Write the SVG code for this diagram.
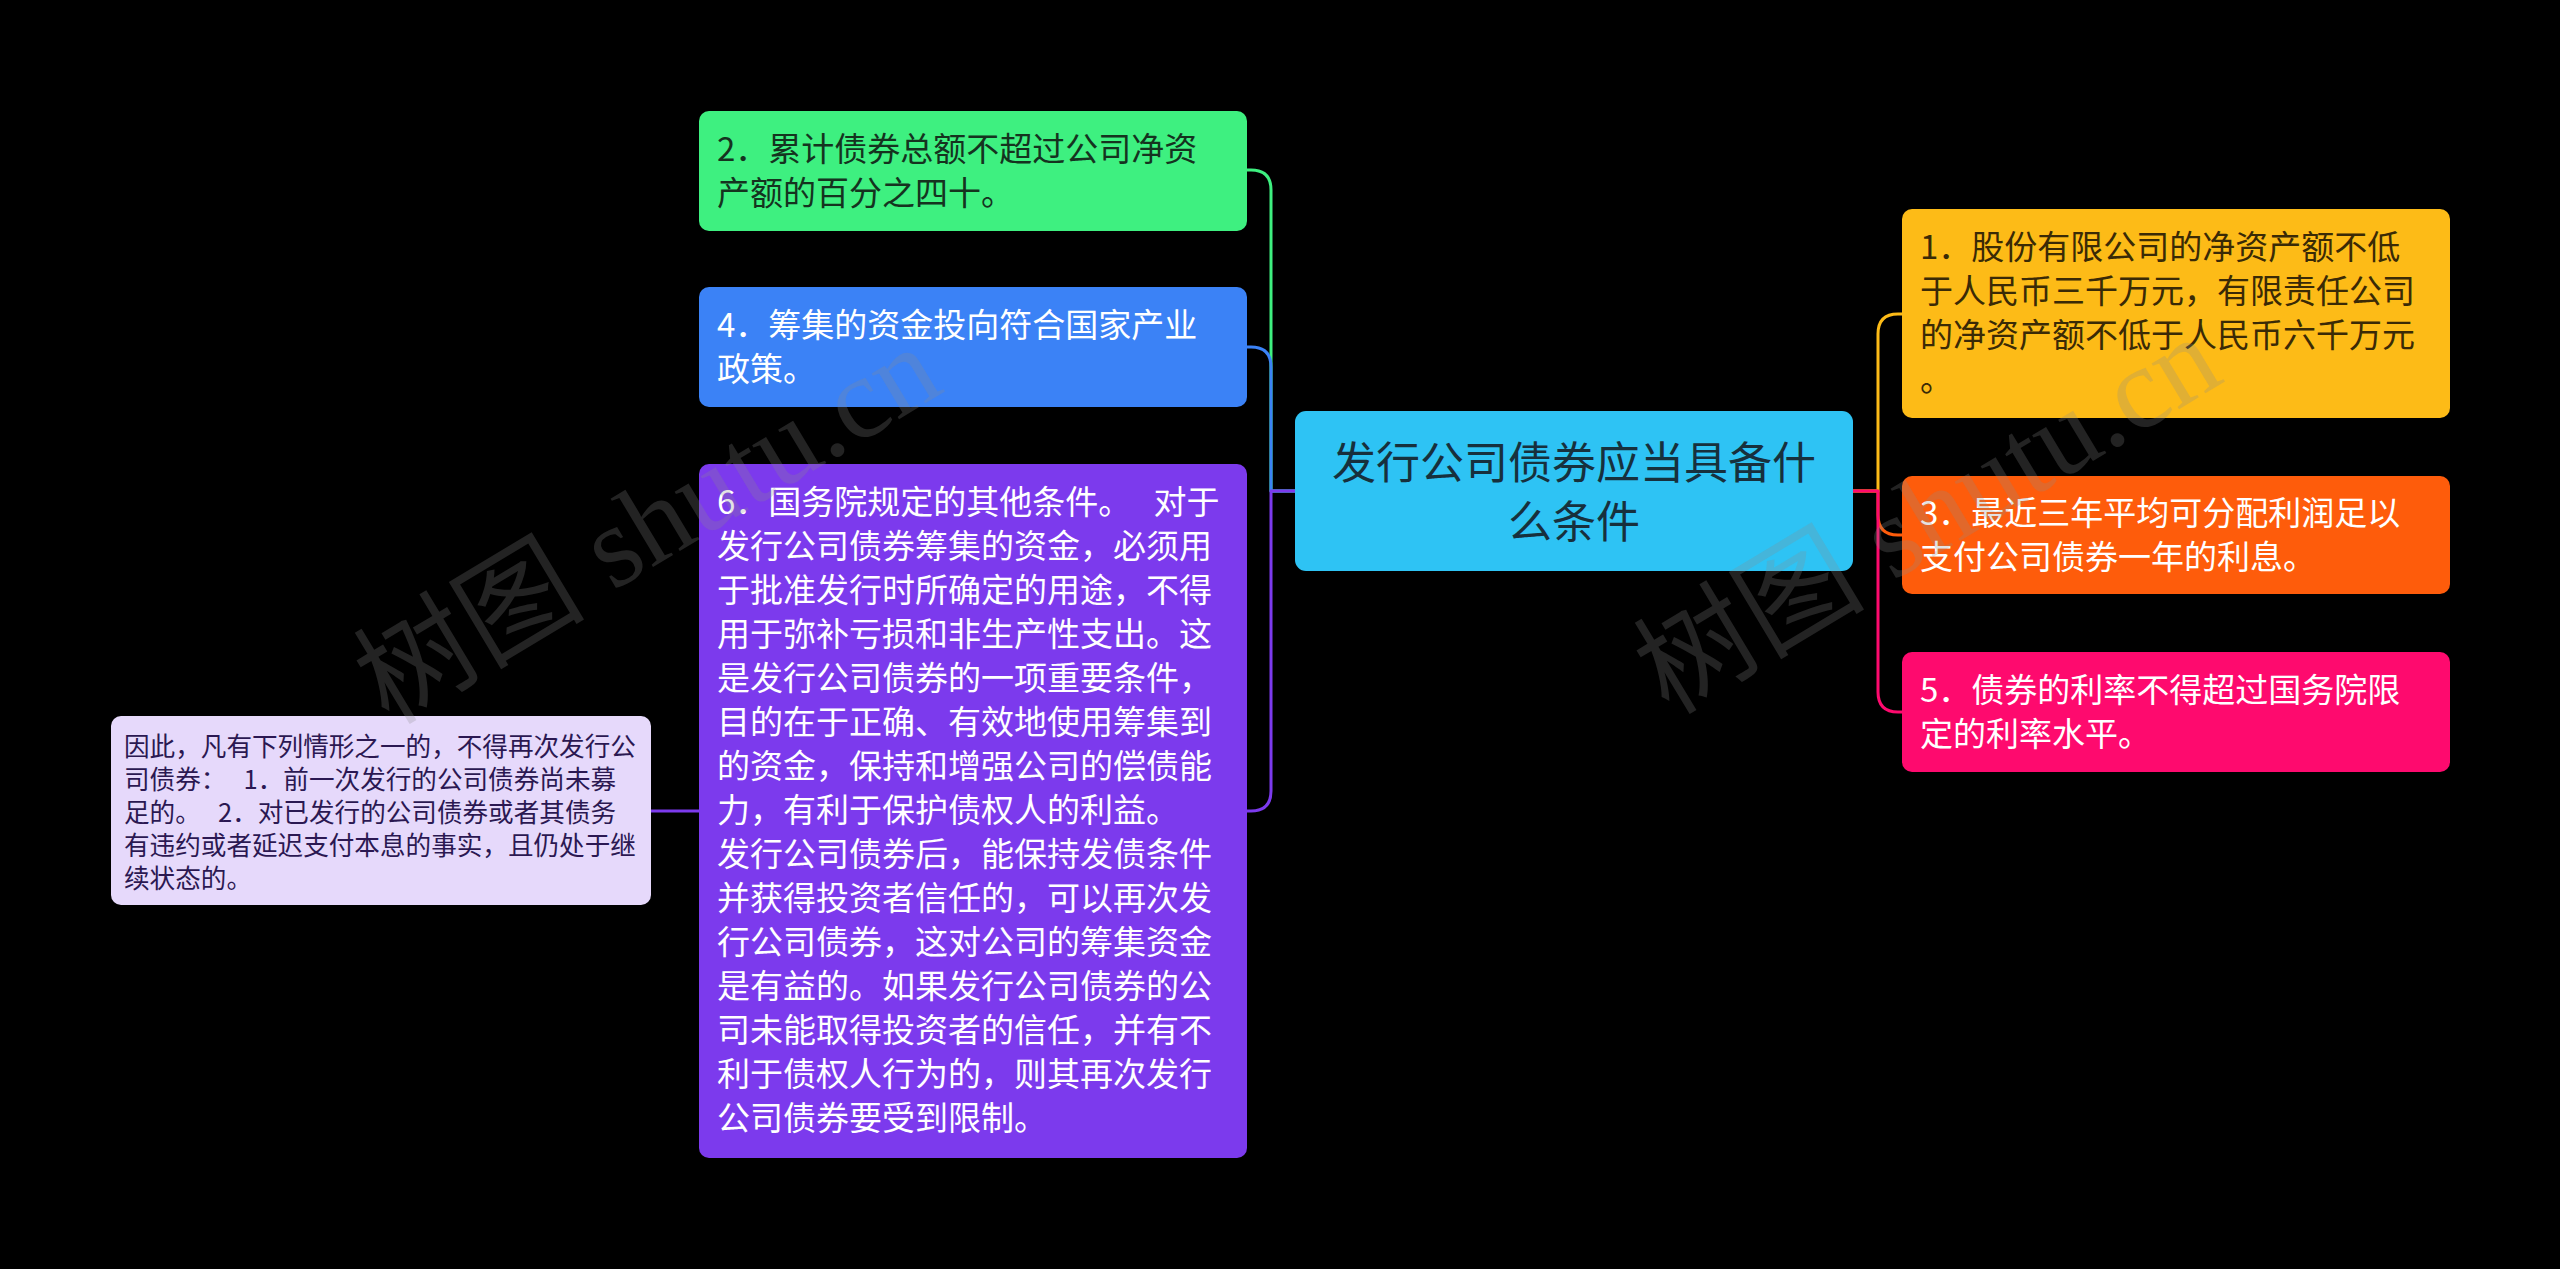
<svg xmlns="http://www.w3.org/2000/svg" width="2560" height="1269" viewBox="0 0 2560 1269">
<style>
.t{font-family:"Noto Sans CJK SC","Noto Sans",sans-serif;font-size:33px;white-space:pre}
.s{font-family:"Noto Sans CJK SC","Noto Sans",sans-serif;font-size:25.6px;white-space:pre}
.c{font-family:"Noto Sans CJK SC","Noto Sans",sans-serif;font-size:44px;text-anchor:middle}
.ln{fill:none;stroke-width:3;stroke-linejoin:round}
.wm{font-family:"Liberation Serif","Noto Sans CJK SC",serif;font-size:116px;fill:#8a8a8a;fill-opacity:0.25}
</style>
<rect width="2560" height="1269" fill="#000"/>
<g id="connectors">
<path class="ln" stroke="#3ef080" d="M1295,491 H1271 V190 Q1271,170 1251,170 H1247"/>
<path class="ln" stroke="#3b82f6" d="M1295,491 H1271 V367 Q1271,347 1251,347 H1247"/>
<path class="ln" stroke="#7c3aed" d="M1295,491 H1271 V791 Q1271,811 1251,811 H1247"/>
<path class="ln" stroke="#7c3aed" d="M651,811 H699"/>
<path class="ln" stroke="#fdbb17" d="M1853,491 H1878 V334 Q1878,314 1898,314 H1902"/>
<path class="ln" stroke="#fe5c0b" d="M1853,491 H1878 V515 Q1878,535 1898,535 H1902"/>
<path class="ln" stroke="#fe0a6e" d="M1853,491 H1878 V692 Q1878,712 1898,712 H1902"/>
</g>
<g id="center">
<rect x="1295" y="411" width="558" height="160" rx="11" fill="#2ec3f4"/>
<text class="c" fill="#17303d"><tspan x="1574" y="479">发行公司债券应当具备什</tspan><tspan x="1574" y="538">么条件</tspan></text>
</g>
<g id="n2">
<rect x="699" y="111" width="548" height="120" rx="10" fill="#3ef080"/>
<text class="t" fill="#15331f"><tspan x="717" y="161">2．累计债券总额不超过公司净资</tspan><tspan x="717" y="205">产额的百分之四十。</tspan></text>
</g>
<g id="n4">
<rect x="699" y="287" width="548" height="120" rx="10" fill="#3b82f6"/>
<text class="t" fill="#fff"><tspan x="717" y="337">4．筹集的资金投向符合国家产业</tspan><tspan x="717" y="381">政策。</tspan></text>
</g>
<g id="n6">
<rect x="699" y="464" width="548" height="694" rx="10" fill="#7c3aed"/>
<text class="t" fill="#fff"><tspan x="717" y="514">6．国务院规定的其他条件。   对于</tspan><tspan x="717" y="558">发行公司债券筹集的资金，必须用</tspan><tspan x="717" y="602">于批准发行时所确定的用途，不得</tspan><tspan x="717" y="646">用于弥补亏损和非生产性支出。这</tspan><tspan x="717" y="690">是发行公司债券的一项重要条件，</tspan><tspan x="717" y="734">目的在于正确、有效地使用筹集到</tspan><tspan x="717" y="778">的资金，保持和增强公司的偿债能</tspan><tspan x="717" y="822">力，有利于保护债权人的利益。</tspan><tspan x="717" y="866">发行公司债券后，能保持发债条件</tspan><tspan x="717" y="910">并获得投资者信任的，可以再次发</tspan><tspan x="717" y="954">行公司债券，这对公司的筹集资金</tspan><tspan x="717" y="998">是有益的。如果发行公司债券的公</tspan><tspan x="717" y="1042">司未能取得投资者的信任，并有不</tspan><tspan x="717" y="1086">利于债权人行为的，则其再次发行</tspan><tspan x="717" y="1130">公司债券要受到限制。</tspan></text>
</g>
<g id="n6a">
<rect x="111" y="716" width="540" height="189" rx="10" fill="#e6d9fb"/>
<text class="s" fill="#2b1852"><tspan x="124" y="756">因此，凡有下列情形之一的，不得再次发行公</tspan><tspan x="124" y="789">司债券：   1．前一次发行的公司债券尚未募</tspan><tspan x="124" y="822">足的。   2．对已发行的公司债券或者其债务</tspan><tspan x="124" y="855">有违约或者延迟支付本息的事实，且仍处于继</tspan><tspan x="124" y="888">续状态的。</tspan></text>
</g>
<g id="n1">
<rect x="1902" y="209" width="548" height="209" rx="10" fill="#fdbb17"/>
<text class="t" fill="#3a2a06"><tspan x="1920" y="259">1．股份有限公司的净资产额不低</tspan><tspan x="1920" y="303">于人民币三千万元，有限责任公司</tspan><tspan x="1920" y="347">的净资产额不低于人民币六千万元</tspan><tspan x="1920" y="391">。</tspan></text>
</g>
<g id="n3">
<rect x="1902" y="476" width="548" height="118" rx="10" fill="#fe5c0b"/>
<text class="t" fill="#fff"><tspan x="1920" y="525">3．最近三年平均可分配利润足以</tspan><tspan x="1920" y="569">支付公司债券一年的利息。</tspan></text>
</g>
<g id="n5">
<rect x="1902" y="652" width="548" height="120" rx="10" fill="#fe0a6e"/>
<text class="t" fill="#fff"><tspan x="1920" y="702">5．债券的利率不得超过国务院限</tspan><tspan x="1920" y="746">定的利率水平。</tspan></text>
</g>
<g id="watermark">
<text class="wm" transform="translate(647,524) rotate(-31)" text-anchor="middle" y="40">树图 shutu.cn</text>
<text class="wm" transform="translate(1927,514) rotate(-31)" text-anchor="middle" y="40">树图 shutu.cn</text>
</g>
</svg>
